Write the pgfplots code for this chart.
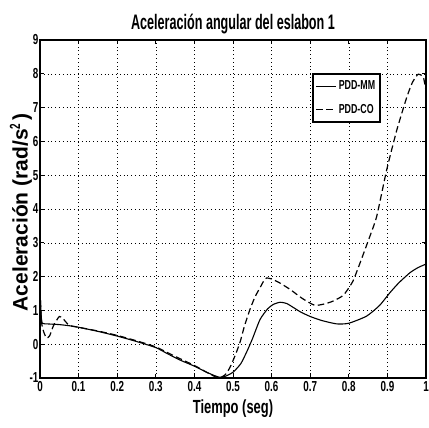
\documentclass[border=0pt]{standalone}
\usepackage{fontspec}
\setmainfont{Liberation Sans}[FakeStretch=0.68]
\newfontfamily\titlesans{Liberation Sans}[FakeStretch=0.6]
\newfontfamily\widesans{Liberation Sans}
\usepackage{pgfplots}
\pgfplotsset{compat=1.18}

\begin{document}
\begin{tikzpicture}
\begin{axis}[
  name=ax,
  scale only axis,
  width=386pt, height=338pt,
  xmin=0, xmax=1, ymin=-1, ymax=9,
  xtick={0,0.1,...,1.0},
  ytick={-1,0,...,9},
  xticklabels={0,0.1,0.2,0.3,0.4,0.5,0.6,0.7,0.8,0.9,1},
  /pgf/number format/assume math mode=true,
  tick label style={font=\fontsize{14.5}{14.5}\selectfont\bfseries},
  xticklabel style={inner sep=0.5pt, yshift=-3pt},
  yticklabel style={inner sep=0.5pt, xshift=-1pt},
  tick align=inside,
  major tick length=4pt,
  tick style={black, line width=0.8pt},
  axis line style={line width=1.4pt},
  grid=major,
  grid style={black, line width=0.5pt, dash pattern=on 0.8pt off 3pt},
  title={Aceleración angular del eslabon 1},
  title style={font=\titlesans\fontsize{21}{21}\selectfont\bfseries, yshift=-3pt},
  xlabel={Tiempo (seg)},
  xlabel style={font=\fontsize{19}{19}\selectfont\bfseries, yshift=-4pt},
  ylabel={Aceleración (rad/s$^{\mathbf{2}}$)},
  ylabel style={font=\widesans\fontsize{21}{21}\selectfont\bfseries,
    at={(axis description cs:-0.02,0.49)}, anchor=south, inner sep=0pt},
  legend style={at={(0.883,0.902)}, anchor=north east, draw=black,
    line width=1.4pt, font=\fontsize{13}{13}\selectfont\bfseries,
    inner xsep=3pt, inner ysep=5pt, row sep=9pt, cells={anchor=west}},
  legend image code/.code={\draw[#1, line width=1pt] (0pt,0pt) -- (20pt,0pt);},
]
% PDD-MM controller response
\addplot[black, line width=1.1pt, smooth, tension=0.35] coordinates {
  (0,1.6) (0.003,0.85) (0.006,0.62) (0.02,0.6) (0.05,0.58) (0.08,0.54)
  (0.1,0.5) (0.15,0.38) (0.2,0.24) (0.25,0.08) (0.3,-0.1) (0.33,-0.28)
  (0.363,-0.47) (0.4,-0.65) (0.43,-0.82) (0.45,-0.92) (0.466,-0.98)
  (0.48,-0.95) (0.5,-0.83) (0.52,-0.58) (0.535,-0.24) (0.55,0.15)
  (0.57,0.73) (0.59,1.05) (0.605,1.18) (0.622,1.24) (0.64,1.2)
  (0.674,0.96) (0.7,0.82) (0.73,0.7) (0.769,0.6) (0.8,0.62) (0.846,0.83)
  (0.88,1.15) (0.907,1.53) (0.93,1.82) (0.959,2.12) (0.98,2.27) (1.0,2.37)
};
\addlegendentry{PDD-MM}
% PDD-CO controller response
\addplot[black, line width=1.2pt, dash pattern=on 6.5pt off 3.5pt, smooth, tension=0.35] coordinates {
  (0,1.6) (0.004,0.65) (0.01,0.35) (0.017,0.18) (0.025,0.25) (0.035,0.55)
  (0.05,0.82) (0.06,0.75) (0.075,0.56) (0.09,0.52) (0.1,0.5) (0.15,0.39)
  (0.2,0.26) (0.25,0.1) (0.3,-0.08) (0.35,-0.36) (0.4,-0.63) (0.43,-0.82)
  (0.455,-0.97) (0.465,-1.0) (0.48,-0.9) (0.492,-0.69) (0.505,-0.35)
  (0.518,0.05) (0.53,0.55) (0.544,1.03) (0.557,1.4) (0.57,1.67)
  (0.58,1.88) (0.587,1.96) (0.6,1.93) (0.62,1.82) (0.648,1.62)
  (0.68,1.35) (0.712,1.15) (0.74,1.2) (0.76,1.28) (0.786,1.45)
  (0.81,1.85) (0.829,2.4) (0.85,3.05) (0.872,3.77) (0.898,5.15)
  (0.924,6.32) (0.95,7.3) (0.965,7.75) (0.98,7.99) (0.993,7.9) (1.0,7.5)
};
\addlegendentry{PDD-CO}
\end{axis}
\pgfresetboundingbox
\path[use as bounding box] ([xshift=-40pt,yshift=-50pt]ax.south west)
  rectangle ([xshift=3pt,yshift=40pt]ax.north east);
\end{tikzpicture}
\end{document}
